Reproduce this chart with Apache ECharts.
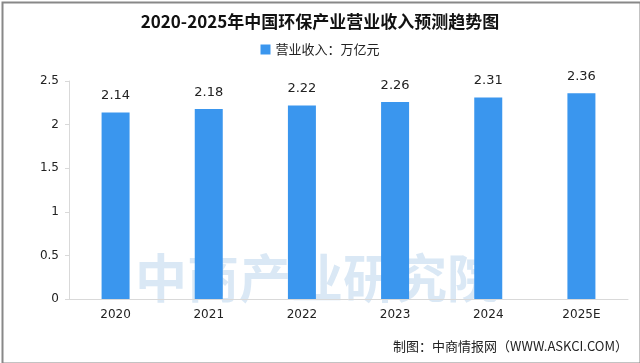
<!DOCTYPE html>
<html><head><meta charset="utf-8">
<script src="https://cdn.jsdelivr.net/npm/echarts@6/dist/echarts.min.js"></script>
<style>html,body{margin:0;padding:0;background:#fff}#c{width:640px;height:363px}</style>
</head><body><div id="c"></div>
<script>
const categories = ['2020','2021','2022','2023','2024','2025E'];
const revenue = [2.14, 2.18, 2.22, 2.26, 2.31, 2.36];
const yTicks = [0, 0.5, 1, 1.5, 2, 2.5];
const titleText = '2020-2025年中国环保产业营业收入预测趋势图';
const legendName = '营业收入：万亿元';
const sourceText = '制图：中商情报网（WWW.ASKCI.COM）';
const watermark = '中商产业研究院';

const chart = echarts.init(document.getElementById('c'));
const cjk = '"Noto Sans CJK SC", "Noto Sans", sans-serif';
chart.setOption({
  backgroundColor: '#fff',
  animation: false,
  title: {text: titleText, left: 'center', top: 8,
    textStyle: {fontFamily: cjk, fontSize: 17, fontWeight: 'bold', color: '#111'}},
  legend: {data: [legendName], top: 38, left: 'center', itemWidth: 10, itemHeight: 10, itemGap: 4,
    icon: 'rect', textStyle: {fontFamily: cjk, fontSize: 13, color: '#222'}},
  graphic: [
    {type: 'rect', left: 0, top: 0, shape: {width: 638, height: 361},
      style: {fill: 'none', stroke: '#888', lineWidth: 2}, z: 100},
    {type: 'text', left: 135, top: 252, z: 0,
      style: {text: watermark, fontFamily: cjk, fontSize: 52, fontWeight: 'bold', fill: 'rgba(150,190,225,0.35)', letterSpacing: 6}},
    {type: 'text', right: 12, top: 340,
      style: {text: sourceText, fontFamily: cjk, fontSize: 13, fill: '#222'}}
  ],
  grid: {left: 69, right: 12, top: 81, bottom: 64, containLabel: false},
  xAxis: {type: 'category', data: categories,
    axisLine: {lineStyle: {color: '#d9d9d9'}}, axisTick: {show: false},
    axisLabel: {fontFamily: 'DejaVu Sans', fontSize: 12, color: '#222', margin: 10}},
  yAxis: {type: 'value', min: 0, max: 2.5, interval: 0.5,
    axisLine: {show: true, lineStyle: {color: '#d9d9d9'}}, axisTick: {show: true, length: 4, lineStyle: {color: '#d9d9d9'}},
    splitLine: {show: false},
    axisLabel: {fontFamily: 'DejaVu Sans', fontSize: 12, color: '#222', margin: 10,
      formatter: v => yTicks.includes(v) ? String(v) : ''}},
  series: [{name: legendName, type: 'bar', data: revenue, barWidth: 28,
    itemStyle: {color: '#3a96ee'},
    label: {show: true, position: 'top', distance: 10, fontFamily: 'DejaVu Sans', fontSize: 13, color: '#222',
      formatter: p => p.value.toFixed(2)}}]
});
</script></body></html>
